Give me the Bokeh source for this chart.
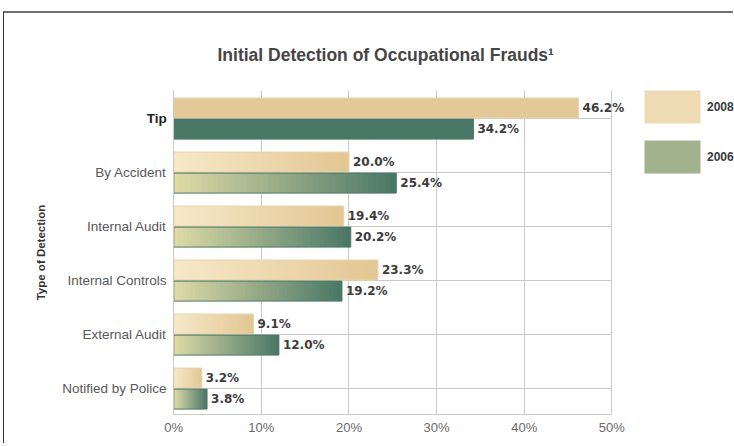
from bokeh.plotting import figure
from bokeh.models import (ColumnDataSource, FixedTicker, Range1d, Label, LabelSet,
                          Legend, LegendItem)
from bokeh.core.properties import value
from bokeh.embed import file_html
from bokeh.resources import INLINE

# ---------------- data ----------------
categories = ["Tip", "By Accident", "Internal Audit", "Internal Controls",
              "External Audit", "Notified by Police"]
values_2008 = [46.2, 20.0, 19.4, 23.3, 9.1, 3.2]
values_2006 = [34.2, 25.4, 20.2, 19.2, 12.0, 3.8]
series_names = ["2008", "2006"]
tick_values = [0, 10, 20, 30, 40, 50]
tick_labels = ["0%", "10%", "20%", "30%", "40%", "50%"]
highlight = "Tip"
title_text = "Initial Detection of Occupational Frauds\u00b9"
y_title = "Type of Detection"

# ---------------- styles ----------------
GRAD_2008 = ("#f6e8c8", "#e3c794")
GRAD_2006 = ("#dedaa6", "#4a7866")
SOLID_2008 = "#e3c99a"
SOLID_2006 = "#4a7866"
EDGE_2008 = "#e8d3a8"
EDGE_2006 = "#4a7866"
GRID = "#c9c9c9"
N_SLICES = 40
BAR_H = 0.37
OFFSET = 0.195


def lerp(c0, c1, t):
    a = [int(c0[i:i + 2], 16) for i in (1, 3, 5)]
    b = [int(c1[i:i + 2], 16) for i in (1, 3, 5)]
    return "#%02x%02x%02x" % tuple(round(a[k] + (b[k] - a[k]) * t) for k in range(3))


n = len(categories)
ypos = [n - 1 - i for i in range(n)]
xmax = tick_values[-1]

p = figure(width=730, height=432,
           x_range=Range1d(-0.03, 64.0), y_range=Range1d(-0.48, 5.52),
           output_backend="svg", toolbar_location=None,
           min_border_left=169, min_border_right=0,
           min_border_top=77, min_border_bottom=31)
p.styles = {"margin-left": "3px", "margin-top": "11px",
            "border-top": "2px solid #6e6e6e", "border-left": "1px solid #333333"}
p.outline_line_color = None
p.background_fill_color = "white"
p.border_fill_color = "white"

# title
p.title.text = title_text
p.title.align = "left"
p.title.offset = 44
p.title.text_font = "Liberation Sans"
p.title.text_font_size = "17.5px"
p.title.text_font_style = "bold"
p.title.text_color = "#454545"
p.title.standoff = 52

# axes
p.xaxis.ticker = FixedTicker(ticks=tick_values)
p.xaxis.bounds = (tick_values[0], xmax)
p.xaxis.major_label_overrides = {v: l for v, l in zip(tick_values, tick_labels)}
p.xaxis.axis_line_color = GRID
p.xaxis.major_tick_line_color = None
p.xaxis.major_tick_out = 0
p.xaxis.major_tick_in = 0
p.xaxis.minor_tick_line_color = None
p.xaxis.major_label_text_font = "Liberation Sans"
p.xaxis.major_label_text_font_size = "13px"
p.xaxis.major_label_text_color = "#6a6a6a"
p.xaxis.major_label_standoff = 5

p.yaxis.ticker = FixedTicker(ticks=ypos)
p.yaxis.major_label_overrides = {y: ("" if c == highlight else c)
                                 for y, c in zip(ypos, categories)}
p.yaxis.axis_line_color = GRID
p.yaxis.major_tick_line_color = None
p.yaxis.major_tick_out = 0
p.yaxis.major_tick_in = 0
p.yaxis.minor_tick_line_color = None
p.yaxis.major_label_text_font = "Liberation Sans"
p.yaxis.major_label_text_font_size = "13.5px"
p.yaxis.major_label_text_color = "#585858"
p.yaxis.major_label_standoff = 7
p.yaxis.axis_label = y_title
p.yaxis.axis_label_text_font = "Liberation Sans"
p.yaxis.axis_label_text_font_size = "11.5px"
p.yaxis.axis_label_text_font_style = "bold"
p.yaxis.axis_label_text_color = "#333333"
p.yaxis.axis_label_standoff = 12

p.xgrid.ticker = FixedTicker(ticks=tick_values)
p.xgrid.grid_line_color = GRID
p.ygrid.ticker = FixedTicker(ticks=ypos)
p.ygrid.grid_line_color = GRID
p.ygrid.cross_bounds = (tick_values[0], xmax)


def slices(values, offset, grad, solid):
    d = dict(y=[], left=[], right=[], color=[])
    for c, v, y in zip(categories, values, ypos):
        for i in range(N_SLICES):
            d["y"].append(y + offset)
            d["left"].append(v * i / N_SLICES)
            d["right"].append(min(v, v * (i + 1.8) / N_SLICES))
            d["color"].append(solid if c == highlight else lerp(grad[0], grad[1], i / (N_SLICES - 1)))
    return ColumnDataSource(d)


renderers = []
for vals, off, grad, solid, edge in [(values_2008, OFFSET, GRAD_2008, SOLID_2008, EDGE_2008),
                                     (values_2006, -OFFSET, GRAD_2006, SOLID_2006, EDGE_2006)]:
    s = slices(vals, off, grad, solid)
    r = p.hbar(y="y", left="left", right="right", height=BAR_H, source=s,
               fill_color="color", line_color=None)
    src = ColumnDataSource(dict(y=[y + off for y in ypos], right=vals,
                                txt=[f"{v:.1f}%" for v in vals]))
    o = p.hbar(y="y", left=0, right="right", height=BAR_H, source=src,
               fill_alpha=0, line_color=edge, line_width=1)
    lab = LabelSet(x="right", y="y", text="txt", source=src, x_offset=4,
                   text_baseline="middle", text_font=value("DejaVu Sans"),
                   text_font_size=value("12px"), text_font_style=value("bold"),
                   text_color=value("#3c3c3c"))
    p.add_layout(lab)
    renderers.append((r, o))

# bold highlighted category label (placed in the left side panel)
hi = categories.index(highlight)
p.add_layout(Label(x=0, y=ypos[hi], x_offset=-7, text=highlight, text_align="right",
                   text_baseline="middle", text_font="Liberation Sans",
                   text_font_size="13.5px", text_font_style="bold", text_color="#222222"),
             "left")

# legend (representative slice of a gradient bar)
k = N_SLICES + int(N_SLICES * 0.4)
legend = Legend(items=[LegendItem(label=name, renderers=[r, o], index=k)
                       for name, (r, o) in zip(series_names, renderers)],
                location=(464, 237), glyph_width=70, glyph_height=41, spacing=9,
                padding=0, margin=0, border_line_color=None, background_fill_alpha=0,
                label_standoff=0, label_text_font="Liberation Sans",
                label_text_font_size="12px", label_text_font_style="bold",
                label_text_color="#3a3a3a", label_text_baseline="top",
                label_text_line_height=1.0)
p.add_layout(legend)

open("out.html", "w").write(file_html(p, INLINE))
